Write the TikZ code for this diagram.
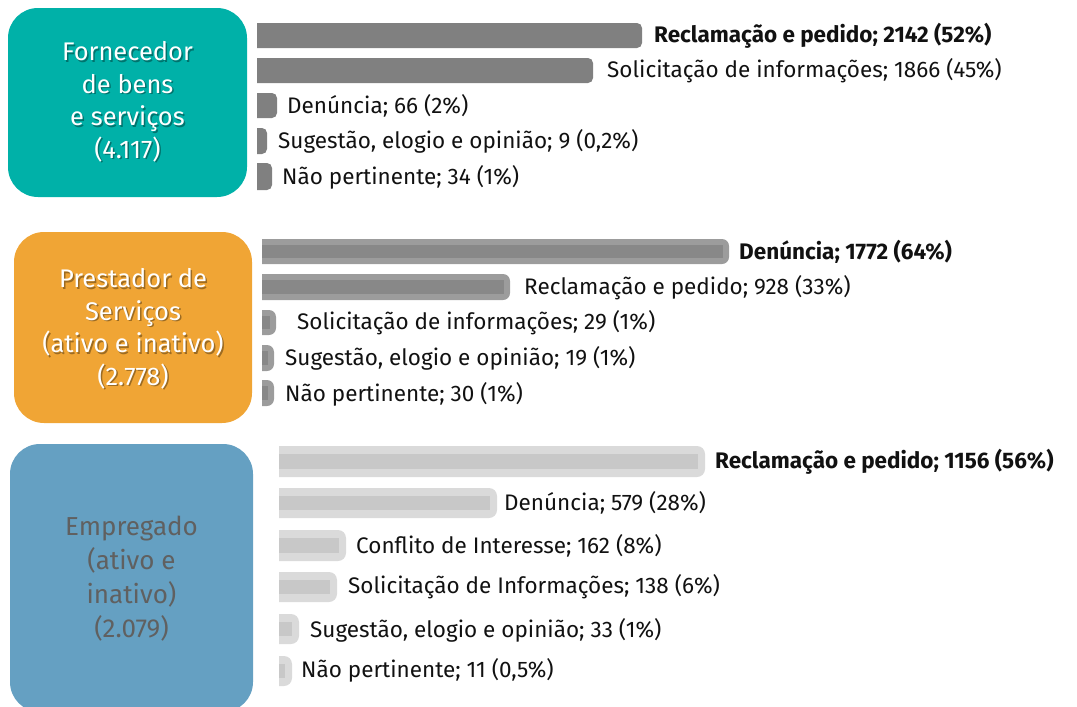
\documentclass[tikz,border=0pt]{standalone}
\usepackage{fontspec}
\setmainfont{Fira Sans}
\definecolor{cteal}{HTML}{00B1A8}
\definecolor{corange}{HTML}{F0A535}
\definecolor{cblue}{HTML}{65A0C2}
\definecolor{gone}{HTML}{808080}
\definecolor{gtwoout}{HTML}{9C9C9C}
\definecolor{gtwoin}{HTML}{888888}
\definecolor{gthrout}{HTML}{DADADA}
\definecolor{gthrin}{HTML}{C8C8C8}
\definecolor{boxgray}{HTML}{606060}
\definecolor{txt}{HTML}{111111}
\tikzset{
  catbox/.style={rounded corners=30pt},
  cattext/.style={align=center,font=\fontsize{25.5}{32.5}\selectfont},
  shadowtext/.style={cattext,text=black,opacity=0.35},
  lab/.style={anchor=west,inner sep=0pt,text=txt,font=\fontsize{22.5}{26}\selectfont},
  blab/.style={lab,font=\fontsize{22.5}{26}\selectfont\bfseries},
}
\newcommand{\barone}[3]{\fill[gone,rounded corners=5pt] (240,#1) rectangle (#3,#2);}
\newcommand{\bartwo}[3]{\fill[gtwoout,rounded corners=7pt] (240,#1) rectangle (#3,#2);
  \fill[gtwoin] (240,#1+6) rectangle (#3-6,#2-6);}
\newcommand{\barthr}[3]{\fill[gthrout,rounded corners=8pt] (240,#1) rectangle (#3,#2);
  \fill[gthrin] (240,#1+8) rectangle (#3-7,#2-8);}
\begin{document}
\begin{tikzpicture}[x=1pt,y=-1pt]
\useasboundingbox (0,0) rectangle (1077,707);
% category boxes
\fill[cteal,catbox] (8,8) rectangle (247,197);
\fill[corange,catbox] (14,232) rectangle (252,423);
\fill[cblue,catbox] (10,444) rectangle (253,712);
\node[shadowtext] (c1s) at (129,103.5) {Fornecedor\\de bens\\e serviços\\(4.117)};
\node[cattext,text=white] (c1) at (127.5,102) {Fornecedor\\de bens\\e serviços\\(4.117)};
\node[shadowtext] (c2s) at (134.5,330.5) {Prestador de\\Serviços\\(ativo e inativo)\\(2.778)};
\node[cattext,text=white] (c2) at (133,329) {Prestador de\\Serviços\\(ativo e inativo)\\(2.778)};
\node[cattext,text=boxgray,font=\fontsize{26}{34}\selectfont] (c3) at (131.5,579) {Empregado\\(ativo e\\inativo)\\(2.079)};
% group 1 bars
\begin{scope}
\clip (257,0) rectangle (1077,220);
\barone{23}{48}{642}
\barone{58}{83}{593}
\barone{93}{118}{277}
\barone{128}{154}{267}
\barone{163}{190}{272}
\end{scope}
\node[blab] (a1) at (654,36) {Reclamação e pedido; 2142 (52\%)};
\node[lab] (a2) at (607,71) {Solicitação de informações; 1866 (45\%)};
\node[lab] (a3) at (287,106) {Denúncia; 66 (2\%)};
\node[lab] (a4) at (278,141) {Sugestão, elogio e opinião; 9 (0,2\%)};
\node[lab] (a5) at (282,177) {Não pertinente; 34 (1\%)};
% group 2 bars
\begin{scope}
\clip (262,220) rectangle (1077,430);
\bartwo{239}{264}{729}
\bartwo{274}{300}{510}
\bartwo{310}{335}{276}
\bartwo{345}{371}{274}
\bartwo{380}{406}{274}
\end{scope}
\node[blab] (b1) at (739,252) {Denúncia; 1772 (64\%)};
\node[lab] (b2) at (524,288) {Reclamação e pedido; 928 (33\%)};
\node[lab] (b3) at (297,323) {Solicitação de informações; 29 (1\%)};
\node[lab] (b4) at (285,358) {Sugestão, elogio e opinião; 19 (1\%)};
\node[lab] (b5) at (285,394) {Não pertinente; 30 (1\%)};
% group 3 bars
\begin{scope}
\clip (279,430) rectangle (1077,707);
\barthr{446}{477}{705}
\barthr{488}{518}{497}
\barthr{530}{561}{346}
\barthr{572}{602}{337}
\barthr{614}{644}{299}
\barthr{656}{686}{292}
\end{scope}
\node[blab] (d1) at (715,462) {Reclamação e pedido; 1156 (56\%)};
\node[lab] (d2) at (504,503) {Denúncia; 579 (28\%)};
\node[lab] (d3) at (356,546) {Conflito de Interesse; 162 (8\%)};
\node[lab] (d4) at (348,587) {Solicitação de Informações; 138 (6\%)};
\node[lab] (d5) at (310,630) {Sugestão, elogio e opinião; 33 (1\%)};
\node[lab] (d6) at (301,670) {Não pertinente; 11 (0,5\%)};
\end{tikzpicture}
\end{document}
